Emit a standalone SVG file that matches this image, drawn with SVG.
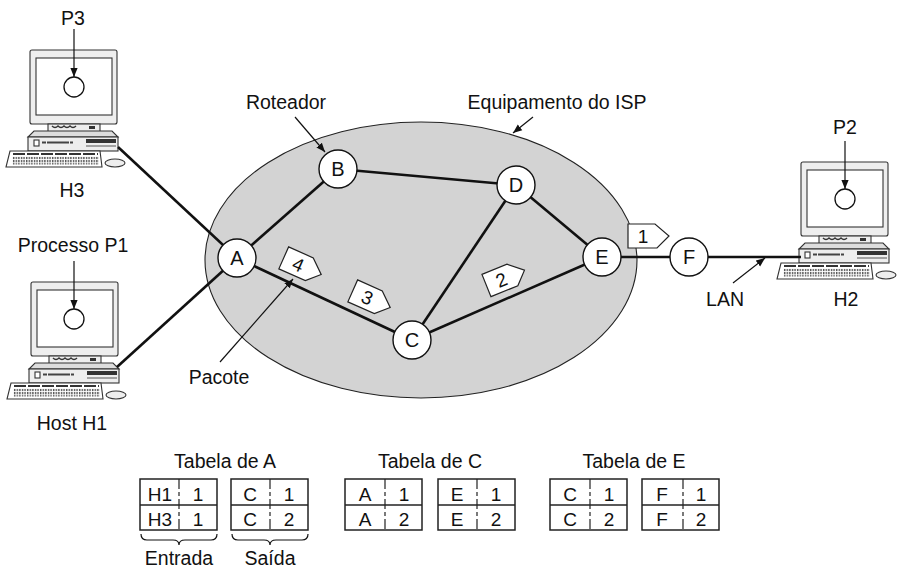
<svg xmlns="http://www.w3.org/2000/svg" width="900" height="570" viewBox="0 0 900 570">
<style>
text{font-family:"Liberation Sans",Arial,Helvetica,sans-serif;fill:#111;}
.lbl{font-size:19.5px;text-anchor:middle;}
.nd{font-size:20px;text-anchor:middle;}
.cell{font-size:19px;text-anchor:middle;}
.pk{font-size:19px;text-anchor:middle;}
.node{fill:#fff;stroke:#111;stroke-width:1.4;}
.edge{stroke:#111;stroke-width:2.6;fill:none;}
.thin{stroke:#111;stroke-width:1.2;fill:none;}
.box{fill:#fff;stroke:#222;stroke-width:1.5;}
.dash{stroke:#222;stroke-width:1.2;stroke-dasharray:10 3 4 3;}
.pkt{fill:#fff;stroke:#222;stroke-width:1.2;}
.pcl{stroke:#333;stroke-width:1.1;}
</style>
<defs>
<marker id="ah" viewBox="0 0 10 10" refX="10" refY="5" markerWidth="9" markerHeight="9" markerUnits="userSpaceOnUse" orient="auto">
<path d="M0,1 L10,5 L0,9 z" fill="#111"/>
</marker>
<pattern id="keys" width="2.6" height="3.2" patternUnits="userSpaceOnUse">
<rect x="0" y="0" width="1.4" height="2.4" fill="#555"/>
</pattern>
<g id="pc">
<rect x="30" y="50" width="87" height="74" rx="2" fill="#eeeeee" class="pcl"/>
<rect x="36" y="58" width="76" height="57" fill="#fff" class="pcl"/>
<rect x="48" y="124" width="52" height="8" fill="#eeeeee" class="pcl"/>
<path d="M52,126 q3,3 6,0 q3,3 6,0 q3,3 6,0 q3,3 6,0" fill="none" stroke="#333" stroke-width="1.4"/>
<rect x="89" y="126" width="6" height="3" fill="#333"/>
<path d="M34,131 L112,131 L118,137 L28,137 z" fill="#dddddd" class="pcl"/>
<rect x="28" y="137" width="90" height="14" fill="#eeeeee" class="pcl"/>
<rect x="34" y="140" width="5" height="6" fill="#fff" class="pcl"/>
<line x1="42" y1="142.5" x2="73" y2="142.5" stroke="#444" stroke-width="1.8" stroke-dasharray="4 1 22 1"/>
<rect x="86" y="139" width="30" height="4" fill="#333"/>
<line x1="86" y1="146" x2="116" y2="146" stroke="#555" stroke-width="1"/>
<path d="M10,151 L100,151 L102,167 L6,167 z" fill="#fff" class="pcl"/>
<line x1="13" y1="154" x2="98" y2="154" stroke="#333" stroke-width="2" stroke-dasharray="12 2"/>
<rect x="12" y="156.5" width="87" height="8" fill="url(#keys)"/>
<ellipse cx="115" cy="163" rx="10" ry="4" fill="#eeeeee" class="pcl"/>
</g>
</defs>

<rect width="900" height="570" fill="#fff"/>

<ellipse id="isp" cx="421" cy="260" rx="216" ry="138" fill="#d3d3d3" stroke="#222" stroke-width="1.1"/>

<g id="H3">
<use href="#pc"/>
<circle cx="74" cy="87" r="10" fill="#fff" stroke="#111" stroke-width="1.3"/>
<text class="lbl" x="73" y="25">P3</text>
<text class="lbl" x="72" y="197">H3</text>
</g>
<g id="H1">
<use href="#pc" transform="translate(1,232)"/>
<circle cx="74" cy="319" r="10" fill="#fff" stroke="#111" stroke-width="1.3"/>
<text class="lbl" x="73" y="252">Processo P1</text>
<text class="lbl" x="72" y="430">Host H1</text>
</g>
<g id="H2">
<use href="#pc" transform="translate(771,112)"/>
<circle cx="845" cy="199" r="10" fill="#fff" stroke="#111" stroke-width="1.3"/>
<text class="lbl" x="845" y="134">P2</text>
<text class="lbl" x="846" y="306">H2</text>
</g>

<g id="connectors">
<line class="edge" x1="118" y1="147" x2="237" y2="258"/>
<line class="edge" x1="117" y1="367" x2="237" y2="258"/>
<line class="edge" x1="237" y1="258" x2="338" y2="169"/>
<line class="edge" x1="237" y1="258" x2="412" y2="340"/>
<line class="edge" x1="338" y1="169" x2="516" y2="185"/>
<line class="edge" x1="516" y1="185" x2="412" y2="340"/>
<line class="edge" x1="516" y1="185" x2="602" y2="257"/>
<line class="edge" x1="412" y1="340" x2="602" y2="257"/>
<line class="edge" x1="602" y1="257" x2="689" y2="257"/>
<line class="edge" x1="689" y1="257" x2="801" y2="257"/>
<line class="thin" x1="74" y1="29" x2="74" y2="77" marker-end="url(#ah)"/>
<line class="thin" x1="74" y1="261" x2="74" y2="309" marker-end="url(#ah)"/>
<line class="thin" x1="845" y1="141" x2="845" y2="189" marker-end="url(#ah)"/>
<line class="thin" x1="295" y1="117" x2="325" y2="152" marker-end="url(#ah)"/>
<line class="thin" x1="533" y1="117" x2="513" y2="133" marker-end="url(#ah)"/>
<line class="thin" x1="220" y1="362" x2="293" y2="279" marker-end="url(#ah)"/>
<line class="thin" x1="733" y1="283" x2="765" y2="258" marker-end="url(#ah)"/>
</g>

<g id="nodeA"><circle class="node" cx="237" cy="258" r="19"/><text class="nd" x="237" y="265">A</text></g>
<g id="nodeB"><circle class="node" cx="338" cy="169" r="19"/><text class="nd" x="338" y="176">B</text></g>
<g id="nodeC"><circle class="node" cx="412" cy="340" r="19"/><text class="nd" x="412" y="347">C</text></g>
<g id="nodeD"><circle class="node" cx="516" cy="185" r="19"/><text class="nd" x="516" y="192">D</text></g>
<g id="nodeE"><circle class="node" cx="602" cy="257" r="19"/><text class="nd" x="602" y="264">E</text></g>
<g id="nodeF"><circle class="node" cx="689" cy="257" r="19"/><text class="nd" x="689" y="264">F</text></g>

<g id="packet1" transform="translate(648,236)">
<path class="pkt" d="M-20,-12 L7,-12 L21,0 L9,12 L-20,12 z"/>
<text class="pk" x="-5" y="7">1</text>
</g>
<g id="packet2" transform="translate(505,278) rotate(-22)">
<path class="pkt" d="M-20,-12 L7,-12 L21,0 L9,12 L-20,12 z"/>
<text class="pk" x="-4" y="7">2</text>
</g>
<g id="packet3" transform="translate(371,299) rotate(24)">
<path class="pkt" d="M-20,-12 L7,-12 L21,0 L9,12 L-20,12 z"/>
<text class="pk" x="-4" y="7">3</text>
</g>
<g id="packet4" transform="translate(302,266) rotate(24)">
<path class="pkt" d="M-20,-12 L7,-12 L21,0 L9,12 L-20,12 z"/>
<text class="pk" x="-4" y="7">4</text>
</g>

<g id="labels">
<text class="lbl" x="286" y="109">Roteador</text>
<text class="lbl" x="557" y="109">Equipamento do ISP</text>
<text class="lbl" x="219" y="384">Pacote</text>
<text class="lbl" x="725" y="306">LAN</text>
</g>

<g id="tableA">
<text class="lbl" x="225" y="468">Tabela de A</text>
<rect class="box" x="140" y="479" width="77" height="51"/>
<line x1="140" y1="505" x2="217" y2="505" stroke="#222" stroke-width="1.3"/>
<line class="dash" x1="179" y1="479" x2="179" y2="530"/>
<text class="cell" x="160" y="501">H1</text><text class="cell" x="198" y="501">1</text>
<text class="cell" x="160" y="526">H3</text><text class="cell" x="198" y="526">1</text>
<rect class="box" x="231" y="479" width="77" height="51"/>
<line x1="231" y1="505" x2="308" y2="505" stroke="#222" stroke-width="1.3"/>
<line class="dash" x1="270" y1="479" x2="270" y2="530"/>
<text class="cell" x="250" y="501">C</text><text class="cell" x="289" y="501">1</text>
<text class="cell" x="250" y="526">C</text><text class="cell" x="289" y="526">2</text>
<path class="thin" d="M141,534 q0,6 6,6 h26 q6,0 6,5 q0,-5 6,-5 h26 q6,0 6,-6"/>
<path class="thin" d="M232,534 q0,6 6,6 h26 q6,0 6,5 q0,-5 6,-5 h26 q6,0 6,-6"/>
<text class="lbl" x="179" y="565">Entrada</text>
<text class="lbl" x="270" y="565">Saída</text>
</g>

<g id="tableC">
<text class="lbl" x="430" y="468">Tabela de C</text>
<rect class="box" x="345" y="479" width="77" height="51"/>
<line x1="345" y1="505" x2="422" y2="505" stroke="#222" stroke-width="1.3"/>
<line class="dash" x1="385" y1="479" x2="385" y2="530"/>
<text class="cell" x="365" y="501">A</text><text class="cell" x="404" y="501">1</text>
<text class="cell" x="365" y="526">A</text><text class="cell" x="404" y="526">2</text>
<rect class="box" x="438" y="479" width="77" height="51"/>
<line x1="438" y1="505" x2="515" y2="505" stroke="#222" stroke-width="1.3"/>
<line class="dash" x1="477" y1="479" x2="477" y2="530"/>
<text class="cell" x="457" y="501">E</text><text class="cell" x="496" y="501">1</text>
<text class="cell" x="457" y="526">E</text><text class="cell" x="496" y="526">2</text>
</g>

<g id="tableE">
<text class="lbl" x="634" y="468">Tabela de E</text>
<rect class="box" x="550" y="479" width="77" height="51"/>
<line x1="550" y1="505" x2="627" y2="505" stroke="#222" stroke-width="1.3"/>
<line class="dash" x1="590" y1="479" x2="590" y2="530"/>
<text class="cell" x="570" y="501">C</text><text class="cell" x="609" y="501">1</text>
<text class="cell" x="570" y="526">C</text><text class="cell" x="609" y="526">2</text>
<rect class="box" x="642" y="479" width="77" height="51"/>
<line x1="642" y1="505" x2="719" y2="505" stroke="#222" stroke-width="1.3"/>
<line class="dash" x1="683" y1="479" x2="683" y2="530"/>
<text class="cell" x="662" y="501">F</text><text class="cell" x="701" y="501">1</text>
<text class="cell" x="662" y="526">F</text><text class="cell" x="701" y="526">2</text>
</g>
</svg>
